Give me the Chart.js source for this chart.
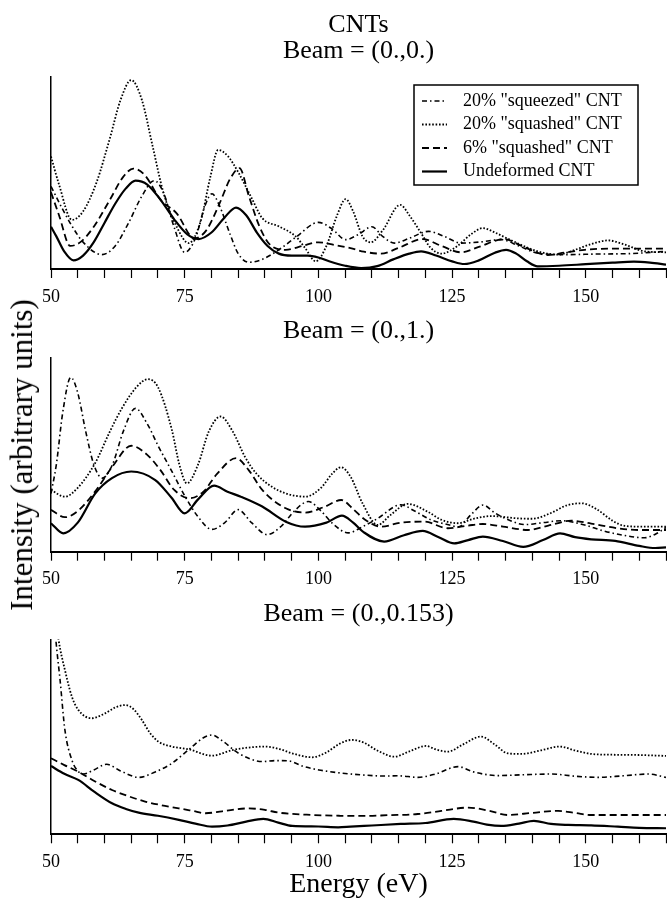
<!DOCTYPE html>
<html>
<head>
<meta charset="utf-8">
<script src="https://cdn.jsdelivr.net/npm/chart.js@4.4.1/dist/chart.umd.min.js"></script>
<style>
  body { margin: 0; background: #fff; }
  #page { position: relative; width: 667px; height: 899px; overflow: hidden; }
  canvas { position: absolute; left: 0; }
  #ylabel {
    position: absolute; left: 22px; top: 455px;
    transform: translate(-50%, -50%) rotate(-90deg);
    font: 31px "Liberation Serif", serif; white-space: nowrap; color: #000;
  }
</style>
</head>
<body>
<div id="page">
  <canvas id="panel1" width="667" height="310" style="top:0"></canvas>
  <canvas id="panel2" width="667" height="285" style="top:310px"></canvas>
  <canvas id="panel3" width="667" height="304" style="top:595px"></canvas>
  <div id="ylabel">Intensity (arbitrary units)</div>
</div>
<script>
const energyMin = 50;
const energyMax = 165;
const labeledTicks = [50, 75, 100, 125, 150];
const seriesNames = ['20% "squeezed" CNT', '20% "squashed" CNT', '6% "squashed" CNT', 'Undeformed CNT'];

// [energy (eV), intensity (arb.)], 0 = axis, 100 = top of y axis

// Beam = (0.,0.)
const p1Squeezed = [[50,43],[52,32],[54,22],[56,14],[59.5,7.5],[62,12],[64.5,24],[67,38],[69.3,46],[71,40],[73,22],[75,8.7],[77,16],[78.8,33],[80.1,39.2],[81.5,33],[83.5,18],[85,8],[87,3.5],[89.5,5],[92.6,10],[96,17],[100,24.3],[102.5,21],[105.1,15.3],[107.5,18],[110,22],[112,17],[114.2,13.5],[117,16],[120.6,19.6],[123.5,17],[126.7,13.5],[130,14],[134.2,15.3],[137.5,12],[141,8.3],[146.7,7.5],[152,7.8],[158,8],[165,9.2]];
const p1Squashed20 = [[50,58.6],[51.5,44],[53.9,25.6],[56,30],[58.5,45],[61,68],[63,88],[65,98.4],[67,88],[69,64],[71,40],[73.5,22],[75.75,13.5],[78,25],[79.8,48],[81.25,62],[83,59],[85.1,50],[87.5,37],[89.5,26.5],[92.6,22.2],[95.75,17],[97.5,11],[99.5,4],[101.5,12],[103.5,28],[105.1,36.4],[106.5,30],[108.25,17],[109.8,13.9],[112,20],[115.3,33.4],[117,28],[119.2,18.7],[121,11],[123,8],[126,12],[128.5,18],[130.75,21.3],[133,19],[136,15],[141,9.2],[144.8,7.5],[148,10],[151,13],[154.2,14.9],[157,13],[161,9.2],[165,8.7]];
const p1Squashed6 = [[50,40],[51.5,28],[53.6,12],[55.5,14],[58,22],[61,36],[63.5,48],[65.4,52.3],[67.5,49],[70.5,36],[73.5,29],[76.8,16],[79,20],[81.5,34],[83.5,47],[85.25,52.5],[87,38],[89,22],[91,12.5],[93.9,10],[97,12],[100,13.9],[103,12.5],[106,10.9],[108.5,9],[111.7,8],[115,11],[119.5,15.6],[123,12],[126.7,8.7],[130,11.5],[134.8,15.6],[138,12],[142.9,7.3],[146,8.5],[149.8,10],[155,10.6],[165,10.6]];
const p1Undeformed = [[50,22],[51,17],[52.5,9],[54.2,4.5],[56,7],[58,14],[60,24],[62,34],[64,42],[65.8,46],[68,44],[70.5,36],[73,26],[75.5,18],[77.6,15.6],[80,19],[82.5,27],[84.6,32],[86.5,28],[88.5,19],[90.5,12],[92.6,8],[95,7],[98,7],[100,6],[102,4],[105,1.7],[108,0.5],[111,1.5],[114,5],[117,8],[119.2,9.2],[122,7],[125,4],[127.3,2.6],[130,4.5],[133,8.5],[135.1,10],[137,8],[139,4],[141,1.4],[145,1.7],[150,2.5],[155,3.3],[159,3.8],[162,3.3],[165,2.3]];

// Beam = (0.,1.)
const p2Squeezed = [[50,30],[51,45],[52.2,72],[53.7,90],[55,82],[56.5,62],[58,45],[59.6,38],[61.5,45],[63.5,62],[65.8,74],[68,66],[70.1,54.3],[72.5,42],[75.1,28.4],[77.5,18],[80.1,11.5],[82.5,15],[85,21.7],[87.5,15],[90.4,8.8],[93,13],[95.5,21],[98.1,25.9],[100.5,21],[102.6,14.7],[105.6,9.7],[108.25,12.9],[111,17],[115.4,24.2],[118,21],[121,16.5],[124.5,13.8],[126.2,12.8],[128.5,19],[130.8,24.1],[133,20],[135.5,16.5],[138.6,14],[142,15],[145.4,16],[149.8,13.8],[153,11],[157,8.5],[161,7.2],[163,9],[165,12.5]];
const p2Squashed20 = [[50,31.9],[52.6,28.4],[55,33],[58.25,45.7],[61,62],[63.25,74],[66,85],[68.1,89.1],[70,85],[72.6,62.9],[74,45],[75.4,35.3],[77.5,45],[79.5,62],[81.7,69.8],[84,62],[86.25,49.1],[88.5,40],[91.25,33.6],[94,30],[97.6,28.4],[100.5,33],[102.5,40],[104.2,43.6],[106,38.8],[108.25,25],[111.1,13.8],[113.5,19],[116.7,24.7],[120.4,20.7],[123,16.5],[126.1,14.7],[129,17],[132.3,18.4],[137.3,17.2],[140,17],[143.5,20],[146.5,24],[149.2,25],[152,22],[155,16],[157.3,13.3],[161,12.9],[165,12.9]];
const p2Squashed6 = [[50,21.6],[52.6,17.8],[55,21],[58.5,32],[61.5,44],[65,54.7],[68,50],[70.5,42],[73,32],[76,27.6],[78.5,31],[81,40],[84.6,48.3],[87,42],[89.5,31.9],[93.9,22.4],[97.5,20.2],[101,23],[104.3,26.7],[106.5,22],[108.5,17],[111.7,12.9],[115.4,15],[119.8,15.5],[124.2,12.1],[128,13.5],[130.75,14.3],[134.5,13],[139.2,11.2],[143,13.5],[147.3,16],[151,14.5],[156,12.1],[160,11.2],[165,11.2]];
const p2Undeformed = [[50,14.7],[52.3,9.5],[55,15],[58.25,30],[61.4,38],[65,41.4],[69.5,37],[72.5,28],[75,19.8],[77.5,27],[80.5,34.1],[83,31],[85.5,28.4],[89.5,23.3],[93.9,15.5],[97.5,12.9],[101.5,15],[104.4,18.6],[106.5,15],[108.5,10],[112.3,5.2],[116,8.5],[119.5,10.7],[122.5,7.5],[125.4,4.3],[128,6],[130.75,7.8],[134.5,5.5],[138.3,2.5],[142,6],[145.2,9.5],[148,7.5],[151,6.4],[155.5,5.6],[160,3],[163,1.9],[165,2.2]];

// Beam = (0.,0.153)
const p3Squeezed = [[50.4,118],[50.9,100],[51.7,79],[52.6,53.5],[53.9,38.1],[55,32.5],[56.1,30.9],[58,33],[60.4,35.9],[63,32.5],[66.4,29.2],[69.5,32],[72.6,36.4],[76,44],[78.5,49.5],[80.1,50.9],[82,48],[85.1,41.5],[89.5,37.3],[92,37.8],[94.5,37.6],[97,35],[100.1,33],[104,31.5],[108.9,30.3],[112.3,29.9],[115,30],[118.6,29.2],[122,31],[126.1,34.7],[129,32],[133.6,30.1],[138,30.5],[143.6,30.9],[148,29.8],[152.3,29.2],[157,30],[161.7,30.9],[165,29.2]];
const p3Squashed20 = [[50.6,118],[51.4,100],[52.6,84.3],[53.9,70.6],[55.1,63.8],[57.6,59.5],[60.1,62],[62,65],[63.9,66.3],[65.5,64],[67,58.6],[68.5,52],[70.1,47.5],[72.6,45],[75.75,43.6],[80.1,40.3],[83.9,43.2],[87,44.5],[90.1,45],[93,43.5],[95.1,41.5],[98.9,39.5],[101.5,42],[104,46.5],[106.25,48.4],[108.5,47],[111,43],[114.2,39.8],[117,42.5],[120.1,45.3],[122,43.5],[124.2,42.4],[127,46],[130.4,50.1],[133,46],[135.4,41.5],[138,41.2],[141.5,43],[145.1,45],[148,43],[151.1,41.2],[155,40.8],[159.2,40.7],[165,40.2]];
const p3Squashed6 = [[50,39],[52.5,35.5],[55.1,32.1],[58,27.5],[61.4,22.7],[64.5,19.5],[67.6,16.8],[70.5,15],[73.9,13.3],[76.5,12],[78.9,10.8],[82,11.8],[87,13.3],[90,12.5],[92.6,11.1],[98.9,9.9],[104,9.5],[108.9,9.4],[113,9.8],[118.6,10.4],[123,12],[128,13.7],[132,12],[135.4,9.9],[140,11],[144.8,12],[148,11],[151,9.9],[158,9.9],[165,9.9]];
const p3Undeformed = [[50,35],[52.5,31],[55.1,27.9],[58,22],[61.4,15.9],[64,13],[66.4,11.1],[70,9.5],[73.9,7.4],[77,5.5],[80.1,3.9],[83,4.5],[86.5,6.5],[89.7,7.9],[92.5,6],[95.1,4.3],[100,4],[103.7,3.6],[106,3.9],[110,4.5],[115.4,5.3],[120,5.8],[125.3,7.9],[129,6.5],[131.5,5],[134.2,4.3],[137.5,5.5],[140.3,6.9],[143.5,5.3],[146.7,4.8],[151,4.6],[156,3.9],[160,3.3],[165,3.1]];

// line looks, same order as seriesNames
const lineStyles = [
  { dash: [5, 3, 1.5, 3], width: 1.6 },
  { dash: [1.6, 1.8], width: 1.8 },
  { dash: [7, 4], width: 1.8 },
  { dash: [], width: 2.2 },
];

function toDatasets(seriesList) {
  return seriesList.map((pts, i) => ({
    label: seriesNames[i],
    data: pts.map(([x, y]) => ({ x, y })),
    borderColor: "#000",
    borderWidth: lineStyles[i].width,
    borderDash: lineStyles[i].dash,
    pointRadius: 0,
    cubicInterpolationMode: "monotone",
    fill: false,
  }));
}

// framed legend in the upper right of the first panel
const boxedLegend = {
  id: "boxedLegend",
  afterDraw(chart) {
    const ctx = chart.ctx;
    const area = chart.chartArea;
    const w = 224, h = 100;
    const left = area.right - 28 - w;
    const top = area.top + 8;
    ctx.save();
    ctx.fillStyle = "#fff";
    ctx.fillRect(left, top, w, h);
    ctx.strokeStyle = "#000";
    ctx.lineWidth = 1.5;
    ctx.strokeRect(left, top, w, h);
    ctx.font = '18px "Liberation Serif"';
    ctx.textBaseline = "middle";
    ctx.fillStyle = "#000";
    chart.data.datasets.forEach((ds, i) => {
      const y = top + 16 + i * 23.5;
      ctx.setLineDash(ds.borderDash);
      ctx.lineWidth = ds.borderWidth;
      ctx.beginPath();
      ctx.moveTo(left + 8, y);
      ctx.lineTo(left + 33, y);
      ctx.stroke();
      ctx.setLineDash([]);
      ctx.fillText(ds.label, left + 49, y);
    });
    ctx.restore();
  },
};

function makePanel(canvasId, title, titlePadding, seriesList, axisHeight, xTitle, extraPlugins) {
  const ctx = document.getElementById(canvasId).getContext("2d");
  return new Chart(ctx, {
    type: "line",
    data: { datasets: toDatasets(seriesList) },
    options: {
      responsive: false,
      animation: false,
      layout: { padding: { left: 51, right: 1, top: 0, bottom: 0 } },
      scales: {
        x: {
          type: "linear",
          min: energyMin,
          max: energyMax,
          afterFit: (scale) => {
            scale.height = axisHeight;
            scale.paddingLeft = 0;
            scale.paddingRight = 0;
          },
          afterBuildTicks: (scale) => {
            const ticks = [];
            for (let v = energyMin; v <= energyMax; v += 5) ticks.push({ value: v });
            scale.ticks = ticks;
          },
          border: { display: true, color: "#000", width: 2 },
          grid: { drawOnChartArea: false, drawTicks: true, tickLength: 9, tickColor: "#000", tickWidth: 1.2 },
          ticks: {
            autoSkip: false,
            maxRotation: 0,
            padding: 8,
            color: "#000",
            font: { family: "Liberation Serif", size: 18 },
            callback: (value) => (labeledTicks.includes(value) ? String(value) : ""),
          },
          title: {
            display: !!xTitle,
            text: xTitle || "",
            color: "#000",
            font: { family: "Liberation Serif", size: 28, lineHeight: 1 },
            padding: 0,
          },
        },
        y: {
          min: 0,
          max: 100,
          afterFit: (scale) => { scale.width = 0; },
          border: { display: true, color: "#000", width: 1.5 },
          grid: { drawOnChartArea: false, drawTicks: false },
          ticks: { display: false },
        },
      },
      plugins: {
        legend: { display: false },
        tooltip: { enabled: false },
        title: {
          display: true,
          text: title,
          fullSize: false,
          color: "#000",
          font: { family: "Liberation Serif", size: 26, weight: "normal", lineHeight: 1 },
          padding: titlePadding,
        },
      },
    },
    plugins: extraPlugins || [],
  });
}

makePanel("panel1", ["CNTs", "Beam = (0.,0.)"], { top: 12, bottom: 13 },
  [p1Squeezed, p1Squashed20, p1Squashed6, p1Undeformed], 41, null, [boxedLegend]);
makePanel("panel2", "Beam = (0.,1.)", { top: 8, bottom: 14 },
  [p2Squeezed, p2Squashed20, p2Squashed6, p2Undeformed], 43.3, null);
makePanel("panel3", "Beam = (0.,0.153)", { top: 6, bottom: 12.3 },
  [p3Squeezed, p3Squashed20, p3Squashed6, p3Undeformed], 64.7, "Energy (eV)");
</script>
</body>
</html>
